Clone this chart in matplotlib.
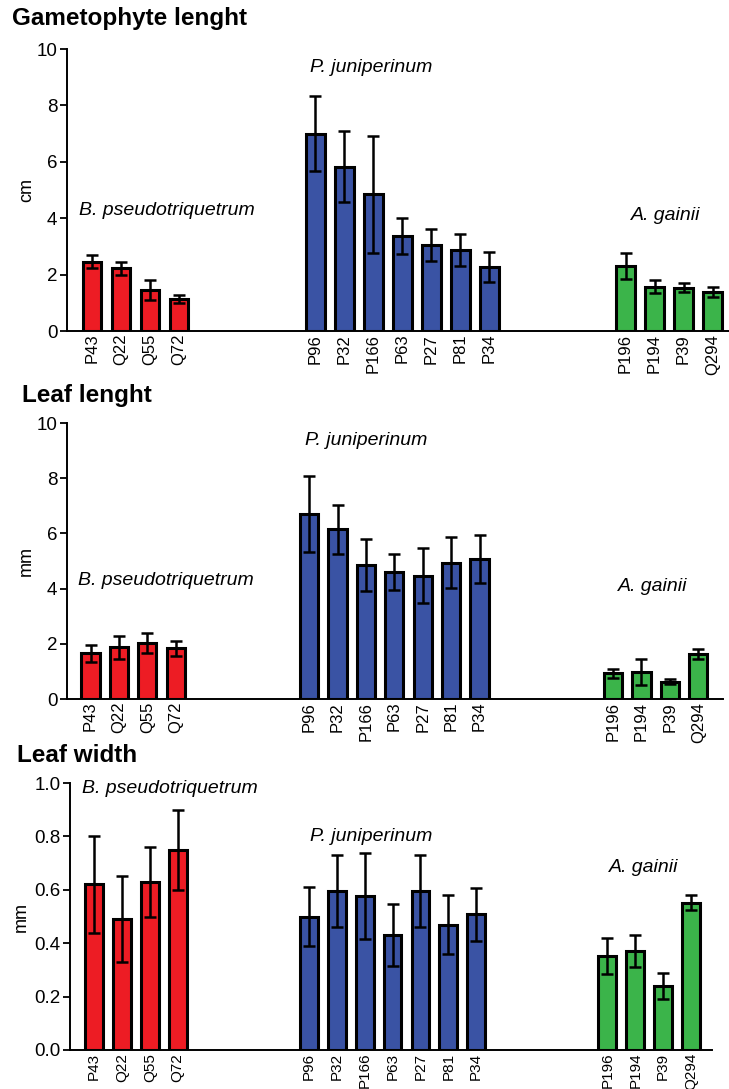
import numpy as np
import matplotlib
matplotlib.use("Agg")
import matplotlib.pyplot as plt

plt.rcParams['font.family'] = ['Liberation Sans', 'DejaVu Sans']

# sample labels per species
bp_labels = ['P43', 'Q22', 'Q55', 'Q72']
pj_labels = ['P96', 'P32', 'P166', 'P63', 'P27', 'P81', 'P34']
ag_labels = ['P196', 'P194', 'P39', 'Q294']

# gametophyte length (cm): mean, error
gam_bp = [2.46, 2.22, 1.45, 1.13]
gam_bp_err = [0.23, 0.22, 0.36, 0.15]
gam_pj = [7.0, 5.83, 4.85, 3.37, 3.05, 2.87, 2.28]
gam_pj_err = [1.32, 1.26, 2.08, 0.63, 0.57, 0.57, 0.53]
gam_ag = [2.30, 1.57, 1.54, 1.39]
gam_ag_err = [0.46, 0.24, 0.15, 0.18]

# leaf length (mm)
ll_bp = [1.65, 1.87, 2.02, 1.84]
ll_bp_err = [0.31, 0.41, 0.36, 0.27]
ll_pj = [6.70, 6.15, 4.86, 4.59, 4.47, 4.94, 5.06]
ll_pj_err = [1.38, 0.88, 0.93, 0.65, 0.99, 0.92, 0.87]
ll_ag = [0.93, 0.98, 0.63, 1.63]
ll_ag_err = [0.16, 0.47, 0.09, 0.18]

# leaf width (mm)
lw_bp = [0.62, 0.49, 0.63, 0.75]
lw_bp_err = [0.18, 0.16, 0.13, 0.15]
lw_pj = [0.50, 0.595, 0.577, 0.43, 0.597, 0.47, 0.508]
lw_pj_err = [0.11, 0.135, 0.16, 0.115, 0.135, 0.11, 0.10]
lw_ag = [0.352, 0.372, 0.24, 0.552]
lw_ag_err = [0.067, 0.06, 0.05, 0.028]

colors = ['#ED1C24', '#3A53A4', '#3BB44A']
group_start = [0, 7.7, 18.4]

W, H = 729, 1089
fig = plt.figure(figsize=(W / 100, H / 100), dpi=100)

panels = [
    dict(title='Gametophyte lenght', ylabel='cm', ymax=10, yticks=np.arange(0, 11, 2), fmt='{:.0f}',
         data=[(gam_bp, gam_bp_err), (gam_pj, gam_pj_err), (gam_ag, gam_ag_err)],
         left=67, right=729, top=49, bottom=331, slot=29.0, first=92,
         title_xy=(12, 18), ylabel_x=35, xfs=12,
         species=[(79, 4.29), (310, 9.36), (631, 4.11)]),
    dict(title='Leaf lenght', ylabel='mm', ymax=10, yticks=np.arange(0, 11, 2), fmt='{:.0f}',
         data=[(ll_bp, ll_bp_err), (ll_pj, ll_pj_err), (ll_ag, ll_ag_err)],
         left=67, right=723, top=423, bottom=699, slot=28.4, first=90.5,
         title_xy=(22, 395), ylabel_x=35, xfs=12,
         species=[(78, 4.28), (305, 9.38), (618, 4.09)]),
    dict(title='Leaf width', ylabel='mm', ymax=1.0, yticks=np.arange(0, 1.01, 0.2), fmt='{:.1f}',
         data=[(lw_bp, lw_bp_err), (lw_pj, lw_pj_err), (lw_ag, lw_ag_err)],
         left=70, right=712, top=783, bottom=1050, slot=27.9, first=94,
         title_xy=(17, 756), ylabel_x=30, xfs=11,
         species=[(82, 0.978), (310, 0.80), (609, 0.685)]),
]
species_names = ['B. pseudotriquetrum', 'P. juniperinum', 'A. gainii']
all_labels = [bp_labels, pj_labels, ag_labels]

for p in panels:
    ax = fig.add_axes([p['left'] / W, 1 - p['bottom'] / H,
                       (p['right'] - p['left']) / W, (p['bottom'] - p['top']) / H])
    ticks, ticklabels = [], []
    for g, (vals, errs) in enumerate(p['data']):
        x = group_start[g] + np.arange(len(vals))
        ax.bar(x, vals, width=0.64, color=colors[g], edgecolor='black', linewidth=2.2, zorder=2)
        ax.errorbar(x, vals, yerr=errs, fmt='none', ecolor='black', elinewidth=1.8,
                    capsize=4.5, capthick=1.8, zorder=3)
        ticks.extend(x)
        ticklabels.extend(all_labels[g])
    ax.set_xlim((p['left'] - p['first']) / p['slot'], (p['right'] - p['first']) / p['slot'])
    ax.set_ylim(0, p['ymax'])
    ax.set_xticks(ticks)
    ax.set_xticklabels(ticklabels, rotation=90, fontsize=p['xfs'])
    ax.tick_params(axis='x', length=0, pad=2)
    ax.set_yticks(p['yticks'])
    ax.set_yticklabels([p['fmt'].format(t) for t in p['yticks']], fontsize=13.5)
    ax.tick_params(axis='y', length=5, width=1.3, pad=2)
    for s in ['top', 'right']:
        ax.spines[s].set_visible(False)
    for s in ['left', 'bottom']:
        ax.spines[s].set_linewidth(1.4)
    ax.set_ylabel(p['ylabel'], fontsize=13)
    ax.yaxis.set_label_coords((p['ylabel_x'] - p['left']) / (p['right'] - p['left']), 0.5)
    for name, (px, yv) in zip(species_names, p['species']):
        ax.text((px - p['first']) / p['slot'], yv, name, style='italic', fontsize=14,
                ha='left', va='center')
    fig.text(p['title_xy'][0] / W, 1 - p['title_xy'][1] / H, p['title'],
             fontsize=17.5, fontweight='bold', ha='left', va='center')

fig.savefig('out.png', dpi=100)
